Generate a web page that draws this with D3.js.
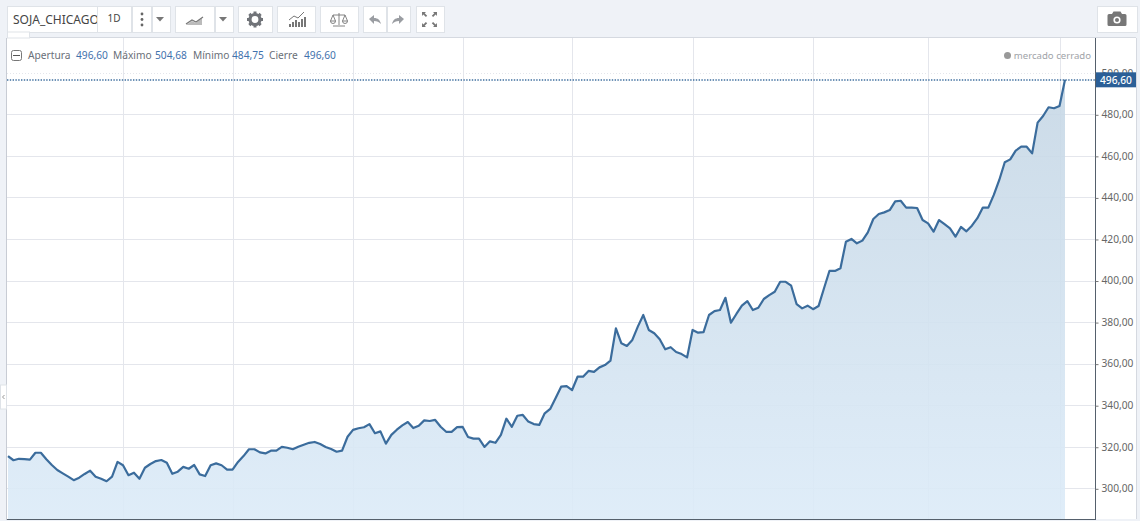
<!DOCTYPE html>
<html><head><meta charset="utf-8">
<script src="https://cdnjs.cloudflare.com/ajax/libs/d3/7.8.5/d3.min.js"></script>
<style>html,body{margin:0;padding:0;background:#fff;overflow:hidden}svg{display:block}text{font-family:"Noto Sans",sans-serif}</style>
</head><body><svg id="c" width="1140" height="521"></svg>
<script>
const closes = [315.5,313.5,314.2,314,313.8,317.1,317.1,314,311.2,308.8,307.2,305.6,303.9,305.1,306.9,308.5,305.6,304.6,303.4,305.6,
312.7,311.1,306.3,307.5,304.6,309.9,311.7,313.1,313.6,312.3,307,308,310.3,309.4,311.2,306.7,305.9,311.1,312,311.1,
309,309,312.7,315.5,318.8,318.8,317.3,316.8,318.1,318.1,319.9,319.5,318.8,320,321,321.9,322.3,321.3,319.9,318.9,
317.6,318.1,324.8,328.1,328.9,329.4,330.9,326.5,327.4,321.5,325.7,328.2,330.3,331.9,329,330.1,332.7,332.4,332.9,329.6,
327.2,327.2,329.4,329.6,324.7,323.9,323.9,319.9,322.6,321.9,325.7,333.5,329.6,334.9,335.3,332.1,330.9,330.5,336.1,338.2,
343.5,348.9,349.2,347.3,353.7,353.7,356.5,356,358.2,359.3,361.4,377,369.8,368.5,371.4,377.8,383.4,376.2,374.6,371.7,
366.9,367.9,365.6,364.6,363,376.2,374.9,375.2,383.4,385.3,385.8,391.7,379.7,383.9,387.9,390.1,385.8,386.9,391.1,393,
394.6,399.4,399.4,397.5,388.6,386.6,387.9,386.2,387.7,396.3,404.7,404.6,405.9,418.7,420,417.9,419.2,423.2,429.6,432,
432.8,433.9,438.1,438.4,435.1,435.1,434.9,429.1,427.5,423.5,429.1,427.1,425.1,421.1,425.8,423.7,426.4,430,435.1,435.1,
441.2,448.4,456.9,458.3,462.5,464.4,464.4,461.2,476,479.2,483.4,482.9,484,496.6];
const monthStarts = [21,41,63,83,103,125,147,168,192];
const yTicks = [300,320,340,360,380,400,420,440,460,480,500];
const ohlcLabels = ["Apertura","Máximo","Mínimo","Cierre"];
const ohlcValues = ["496,60","504,68","484,75","496,60"];
const symbol = "SOJA_CHICAGO", interval = "1D", status = "mercado cerrado";

const svg = d3.select("#c");
const fmt = v => v.toFixed(2).replace(".", ",");
const x = d3.scaleLinear().domain([0, closes.length-1]).range([8, 1065]);
const y = d3.scaleLinear().domain([300, 480]).range([488.3, 114.3]);
const L=7, R=1095, T=38, B=519, PR=1136;

svg.append("rect").attr("width",1140).attr("height",521).attr("fill","#eff2f7");
svg.append("rect").attr("x",L).attr("y",T).attr("width",PR-L).attr("height",B-T).attr("fill","#fff");
const defs = svg.append("defs");
const g = defs.append("linearGradient").attr("id","fill").attr("x1",0).attr("y1",0).attr("x2",0).attr("y2",1);
g.append("stop").attr("offset","0").attr("stop-color","#c6d7e5");
g.append("stop").attr("offset","1").attr("stop-color","#dcebf8");
defs.append("clipPath").attr("id","plot").append("rect").attr("x",L).attr("y",T).attr("width",R-L).attr("height",B-T);

// grid
const gridG = svg.append("g");
gridG.selectAll(".v").data(monthStarts).join("line").attr("x1",d=>Math.round(x(d))+.5).attr("x2",d=>Math.round(x(d))+.5)
  .attr("y1",T).attr("y2",B).attr("stroke","#e4e6ec");
gridG.selectAll(".h").data(yTicks).join("line").attr("x1",L).attr("x2",R)
  .attr("y1",d=>Math.round(y(d))+.5).attr("y2",d=>Math.round(y(d))+.5).attr("stroke","#e4e6ec")
  .attr("stroke-dasharray",d=>d===500?"1 2":null);

// area + line
const plot = svg.append("g").attr("clip-path","url(#plot)");
plot.append("path").datum(closes).attr("fill","url(#fill)").attr("fill-opacity",.9)
  .attr("d",d3.area().x((d,i)=>x(i)).y0(B).y1(d=>y(d)));
plot.append("path").datum(closes).attr("fill","none").attr("stroke","#3b6c9c").attr("stroke-width",2.2)
  .attr("stroke-linejoin","round").attr("d",d3.line().x((d,i)=>x(i)).y(d=>y(d)));

// last price line
const last = closes[closes.length-1];
svg.append("line").attr("x1",L).attr("x2",R).attr("y1",Math.round(y(last))).attr("y2",Math.round(y(last)))
  .attr("stroke","#3f6f9f").attr("stroke-width",1.3).attr("stroke-dasharray","1.4 1.4");

// frames
svg.append("line").attr("x1",L-.5).attr("x2",L-.5).attr("y1",T).attr("y2",B+1).attr("stroke","#c8ccd4");
svg.append("line").attr("x1",L).attr("x2",PR).attr("y1",T-.5).attr("y2",T-.5).attr("stroke","#d5d9e0");
svg.append("line").attr("x1",L).attr("x2",R).attr("y1",B+.5).attr("y2",B+.5).attr("stroke","#55606c");
svg.append("line").attr("x1",R+.5).attr("x2",R+.5).attr("y1",T).attr("y2",B+1).attr("stroke","#55606c");
svg.append("line").attr("x1",PR+.5).attr("x2",PR+.5).attr("y1",T).attr("y2",B).attr("stroke","#d5d9e0");

const axis = d3.axisRight(y).tickValues(yTicks).tickFormat(fmt).tickSize(3).tickPadding(3);
const ax = svg.append("g").attr("transform",`translate(${R+.5},0)`).call(axis);
ax.select(".domain").remove();
ax.selectAll("line").attr("stroke","#777").attr("y1",.5).attr("y2",.5);
ax.selectAll("text").attr("fill","#666").attr("font-size",10.2).attr("font-family","Noto Sans");

// price tag
const py = y(last);
svg.append("rect").attr("x",R+1).attr("y",py-7.5).attr("width",40).attr("height",15).attr("fill","#2b5f97");
svg.append("text").attr("x",R+21).attr("y",py+3.8).attr("text-anchor","middle").attr("fill","#fff").attr("font-size",10.2).attr("font-weight",500).text(fmt(last));

// legend
const lg = svg.append("g");
lg.append("rect").attr("x",11.5).attr("y",50.5).attr("width",10).attr("height",10).attr("rx",2).attr("fill","#fff").attr("stroke","#777");
lg.append("line").attr("x1",13).attr("x2",20).attr("y1",55.5).attr("y2",55.5).attr("stroke","#555");
const lx=[28,113,193,269], vx=[76,155,232,304];
ohlcLabels.forEach((t,i)=>{
  lg.append("text").attr("x",lx[i]).attr("y",59).attr("font-size",10.2).attr("fill","#6a6f78").text(t);
  lg.append("text").attr("x",vx[i]).attr("y",59).attr("font-size",10.2).attr("fill","#3f72ad").text(ohlcValues[i]);
});
svg.append("circle").attr("cx",1007.5).attr("cy",55.5).attr("r",3.5).attr("fill","#999");
svg.append("text").attr("x",1091).attr("y",59).attr("text-anchor","end").attr("font-size",9.6).attr("fill","#a0a3a8").text(status);

// toolbar
const buttons=[[7,90],[97,34],[132,19],[152,18],[175,39],[215,18],[238,34],[277,38],[320,38],[363,23],[387,23],[416,28],[1097,40]];
svg.append("g").selectAll("rect").data(buttons).join("rect").attr("x",d=>d[0]+.5).attr("y",6.5).attr("width",d=>d[1]).attr("height",26)
  .attr("fill","#fff").attr("stroke","#dfe3e8");
svg.append("defs").append("clipPath").attr("id","sym").append("rect").attr("x",7).attr("y",6).attr("width",90).attr("height",26);
svg.append("text").attr("x",13).attr("y",24).attr("font-size",12).attr("fill","#444").attr("clip-path","url(#sym)").text(symbol);
svg.append("text").attr("x",114).attr("y",22).attr("text-anchor","middle").attr("font-size",10).attr("fill","#444").text(interval);
const ic = svg.append("g").attr("fill","#8a8d92");
[14,19.5,25].forEach(cy=>ic.append("circle").attr("cx",142).attr("cy",cy).attr("r",1.4).attr("fill","#666"));
[160,223].forEach(cx=>ic.append("path").attr("d",`M${cx-4} 17h8l-4 4.5z`).attr("fill","#777"));
ic.append("path").attr("d","M186 25l6-4 4 2 6-5v7z").attr("fill","#bbb");
ic.append("path").attr("d","M186 24l6-4 4 2 7-5").attr("fill","none").attr("stroke","#777").attr("stroke-width",1.3);
// gear
ic.append("circle").attr("cx",255).attr("cy",19.5).attr("r",5).attr("fill","none").attr("stroke","#707378").attr("stroke-width",3.2);
d3.range(8).forEach(i=>ic.append("rect").attr("x",253.5).attr("y",11.5).attr("width",3).attr("height",3).attr("fill","#707378")
  .attr("transform",`rotate(${i*45} 255 19.5)`));
// indicators
[[289,3],[292,5],[295,7],[298,5],[301,8],[304,10]].forEach(d=>ic.append("rect").attr("x",d[0]).attr("y",27-d[1]).attr("width",2).attr("height",d[1]).attr("fill","#777"));
ic.append("path").attr("d","M289 20l5-4 4 2 6-6").attr("fill","none").attr("stroke","#777");
// scale
ic.append("path").attr("d","M339 13v12M333 26h12M333 15h12M333 15l-2.500 6h5zM345 15l-2.500 6h5zM330.500 21a2.500 2.500 0 0 0 5 0M342.500 21a2.500 2.500 0 0 0 5 0").attr("fill","none").attr("stroke","#777").attr("stroke-width",.9);
// undo redo
ic.append("path").attr("d","M369 19l5-4v3c4 0 6 2 7 6-2-2-4-3-7-3v3z").attr("fill","#9a9da2");
ic.append("path").attr("d","M404 19l-5-4v3c-4 0-6 2-7 6 2-2 4-3 7-3v3z").attr("fill","#9a9da2");
// fullscreen
[[422,12,1,1],[437,12,-1,1],[422,27,1,-1],[437,27,-1,-1]].forEach(d=>
  ic.append("path").attr("d",`M${d[0]} ${d[1]}h${4*d[2]}l${-1.300*d[2]} ${1.300*d[3]}l${2.500*d[2]} ${2.500*d[3]}l${-1.300*d[2]} ${1.300*d[3]}l${-2.500*d[2]} ${-2.500*d[3]}l${-1.300*d[2]} ${1.300*d[3]}z`).attr("fill","#777"));
// camera
ic.append("path").attr("d","M1109 14h3l1.500-2.500h7l1.500 2.500h3a1.500 1.500 0 0 1 1.500 1.500v9a1.500 1.500 0 0 1-1.500 1.500h-16a1.500 1.500 0 0 1-1.500-1.500v-9a1.500 1.500 0 0 1 1.500-1.500z").attr("fill","#777");
ic.append("circle").attr("cx",1117).attr("cy",20).attr("r",3.6).attr("fill","#fff");
ic.append("circle").attr("cx",1117).attr("cy",20).attr("r",2).attr("fill","#777");
// handles
svg.append("rect").attr("x",7.5).attr("y",32).attr("width",22).attr("height",6).attr("fill","#fff").attr("stroke","#dfe3e8");
svg.append("rect").attr("x",0.5).attr("y",385).attr("width",6).attr("height",24).attr("fill","#fff").attr("stroke","#dfe3e8");
svg.append("path").attr("d","M4.500 395l-2 2 2 2").attr("fill","none").attr("stroke","#999");
</script></body></html>
